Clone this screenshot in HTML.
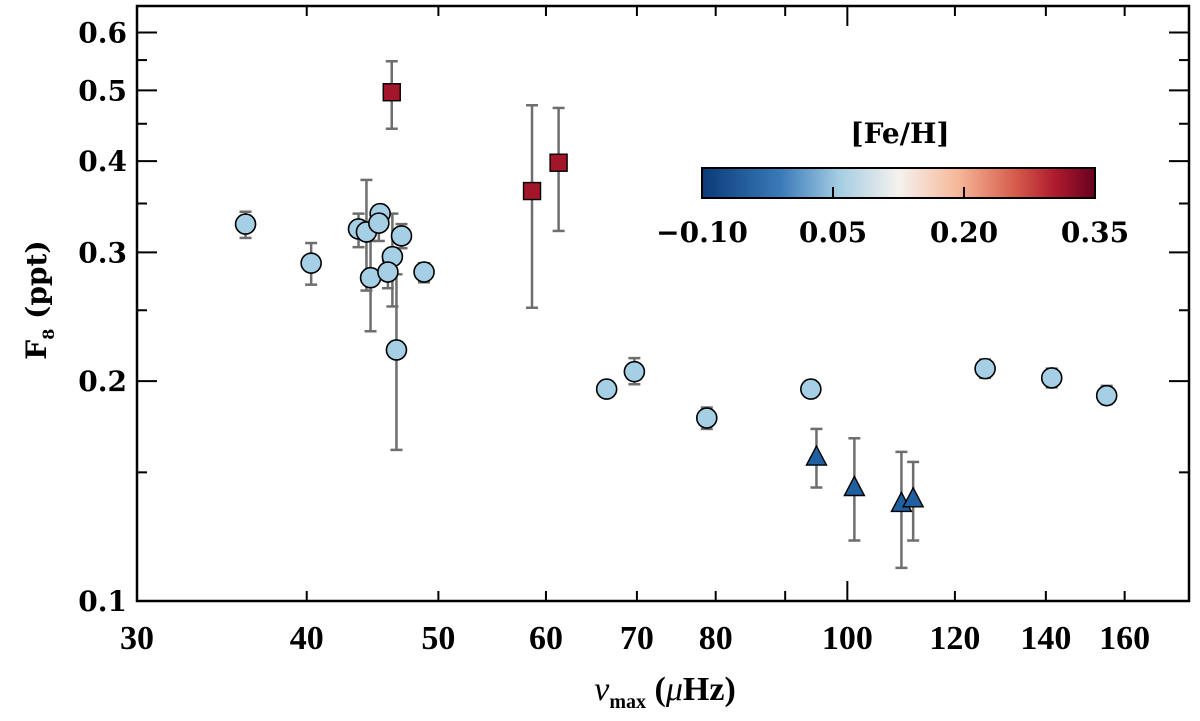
<!DOCTYPE html>
<html><head><meta charset="utf-8"><style>
html,body{margin:0;padding:0;background:#fff;}
svg{display:block;font-family:"DejaVu Serif",serif;font-weight:bold;}
</style></head><body>
<svg id="chart" width="1200" height="721" viewBox="0 0 1200 721" xmlns="http://www.w3.org/2000/svg">
<defs>
<linearGradient id="cbar" x1="0" x2="1" y1="0" y2="0">
<stop offset="0" stop-color="#0b3a78"/><stop offset="0.2" stop-color="#3a7ab8"/><stop offset="0.35" stop-color="#a5cde3"/><stop offset="0.5" stop-color="#f5f2ee"/><stop offset="0.65" stop-color="#f6b89a"/><stop offset="0.8" stop-color="#d55a4a"/><stop offset="0.9" stop-color="#ae1a2e"/><stop offset="1" stop-color="#67001f"/>
</linearGradient>
</defs>
<g id="axes"></g>
<g id="marks"></g>
<g>
<text x="900" y="143" font-size="28" text-anchor="middle">[Fe/H]</text>
<rect x="702" y="168" width="393" height="30" fill="url(#cbar)" stroke="#000" stroke-width="2"/>
<line x1="833" y1="198" x2="833" y2="187" stroke="#000" stroke-width="2"/>
<line x1="964" y1="198" x2="964" y2="187" stroke="#000" stroke-width="2"/>
<text x="702" y="242" font-size="28" text-anchor="middle">−0.10</text>
<text x="833" y="242" font-size="28" text-anchor="middle">0.05</text>
<text x="964" y="242" font-size="28" text-anchor="middle">0.20</text>
<text x="1095" y="242" font-size="28" text-anchor="middle">0.35</text>
</g>
<text transform="translate(46,300) rotate(-90)" font-size="28" text-anchor="middle">F<tspan font-size="16" dy="8">8</tspan><tspan dy="-8"> (ppt)</tspan></text>
<text x="665" y="700" font-size="34" text-anchor="middle" font-family="Liberation Serif, serif"><tspan font-style="italic" font-weight="normal">ν</tspan><tspan font-size="20" dy="8">max</tspan><tspan dy="-8"> (</tspan><tspan font-style="italic" font-weight="normal">μ</tspan>Hz)</text>
</svg>
<script>
const circX=[36.06,40.3,43.67,44.26,45.3,45.2,44.57,46.97,46.25,45.9,48.8,46.57,66.5,69.7,78.8,94.0,126.3,141.4,155.2];
const circY=[0.328,0.290,0.323,0.320,0.339,0.329,0.277,0.316,0.296,0.282,0.282,0.2206,0.195,0.206,0.178,0.195,0.208,0.202,0.191];
const circLo=[0.314,0.271,0.305,0.266,0.329,0.311,0.234,0.304,0.253,0.268,0.273,0.161,0.192,0.198,0.172,0.190,0.202,0.196,0.186];
const circHi=[0.341,0.309,0.339,0.377,0.347,0.347,0.311,0.328,0.339,0.292,0.290,0.280,0.198,0.215,0.184,0.200,0.214,0.208,0.197];
const sqX=[46.2,58.6,61.3];
const sqY=[0.497,0.364,0.398];
const sqLo=[0.443,0.252,0.321];
const sqHi=[0.548,0.477,0.473];
const triX=[94.9,101.2,109.6,111.8];
const triY=[0.1574,0.143,0.136,0.138];
const triLo=[0.143,0.121,0.111,0.121];
const triHi=[0.172,0.167,0.160,0.155];
const xTicks=[30,40,50,60,70,80,90,100,120,140,160];
const xTickLabels=["30","40","50","60","70","80","","100","120","140","160"];
const yTicks=[0.1,0.15,0.2,0.25,0.3,0.35,0.4,0.45,0.5,0.55,0.6];
const yTickLabels=["0.1","","0.2","","0.3","","0.4","","0.5","","0.6"];

const L=137,R=1189,T=6,B=601;
function sx(v){return L+590*Math.log(v/30);}
function sy(v){return B-317.3*Math.log(v/0.1);}
const NS="http://www.w3.org/2000/svg";
function mk(tag,attrs,parent){const e=document.createElementNS(NS,tag);for(const k in attrs)e.setAttribute(k,attrs[k]);parent.appendChild(e);return e;}
const ax=document.getElementById('axes'),mg=document.getElementById('marks');
const frame=mk('rect',{x:L,y:T,width:R-L,height:B-T,fill:'none',stroke:'#000','stroke-width':2.5},ax);


xTicks.forEach((v,i)=>{
  const x=sx(v),len=(v===100)?20:10;
  mk('line',{x1:x,y1:B,x2:x,y2:B-len,stroke:'#000','stroke-width':2},ax);
  mk('line',{x1:x,y1:T,x2:x,y2:T+len,stroke:'#000','stroke-width':2},ax);
  if(xTickLabels[i]){
    const t=mk('text',{x:x,y:649,'font-size':34,'text-anchor':'middle','font-family':'Liberation Serif, serif'},ax);
    t.textContent=xTickLabels[i];
    
    
  }
});
yTicks.forEach((v,i)=>{
  const y=sy(v),len=yTickLabels[i]?20:10;
  mk('line',{x1:L,y1:y,x2:L+len,y2:y,stroke:'#000','stroke-width':2},ax);
  mk('line',{x1:R,y1:y,x2:R-len,y2:y,stroke:'#000','stroke-width':2},ax);
  if(yTickLabels[i]){
    const t=mk('text',{x:127,y:y+10,'font-size':28,'text-anchor':'end'},ax);
    t.textContent=yTickLabels[i];
    
    
  }
});
function errbar(x,lo,hi){
  const g=mk('g',{stroke:'#6e6e6e','stroke-width':2.5},mg);
  
  
  const X=sx(x),y1=sy(hi),y2=sy(lo);
  mk('line',{x1:X,y1:y1,x2:X,y2:y2},g);
  mk('line',{x1:X-6,y1:y1,x2:X+6,y2:y1},g);
  mk('line',{x1:X-6,y1:y2,x2:X+6,y2:y2},g);
}
circX.forEach((v,i)=>errbar(v,circLo[i],circHi[i]));
sqX.forEach((v,i)=>errbar(v,sqLo[i],sqHi[i]));
triX.forEach((v,i)=>errbar(v,triLo[i],triHi[i]));
circX.forEach((v,i)=>{
  const c=mk('circle',{cx:sx(v),cy:sy(circY[i]),r:10,fill:'#a5cfe4',stroke:'#000','stroke-width':1.6},mg);
  
  
});
sqX.forEach((v,i)=>{
  const X=sx(v),Y=sy(sqY[i]);
  const s=mk('rect',{x:X-8.5,y:Y-8.5,width:17,height:17,fill:'#a3162a',stroke:'#000','stroke-width':1.4},mg);
  
  
});
triX.forEach((v,i)=>{
  const X=sx(v),Y=sy(triY[i]);
  const p=mk('polygon',{points:`${X},${Y-11} ${X-10},${Y+8} ${X+10},${Y+8}`,fill:'#2060a0',stroke:'#000','stroke-width':1.4},mg);
  
  
});
</script>
</body></html>
